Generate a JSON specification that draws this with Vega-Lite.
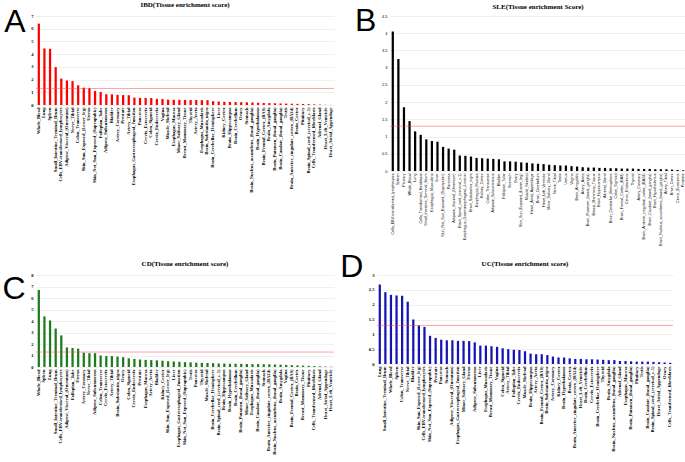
{
  "$schema": "https://vega.github.io/schema/vega-lite/v6.json",
  "padding": {"left": 2, "top": 1, "right": 0, "bottom": 0},
  "background": "white",
  "datasets": {
    "ibd": [
      {"tissue": "Whole_Blood", "score": 6.4},
      {"tissue": "Lung", "score": 4.45},
      {"tissue": "Spleen", "score": 4.42},
      {"tissue": "Small_Intestine_Terminal_Ileum", "score": 2.98},
      {"tissue": "Cells_EBV-transformed_lymphocytes", "score": 2.08},
      {"tissue": "Adipose_Visceral_(Omentum)", "score": 1.93},
      {"tissue": "Nerve_Tibial", "score": 1.88},
      {"tissue": "Colon_Transverse", "score": 1.55},
      {"tissue": "Skin_Sun_Exposed_(Lower_leg)", "score": 1.36},
      {"tissue": "Uterus", "score": 1.32},
      {"tissue": "Skin_Not_Sun_Exposed_(Suprapubic)", "score": 1.1},
      {"tissue": "Fallopian_Tube", "score": 1.02},
      {"tissue": "Adipose_Subcutaneous", "score": 0.85},
      {"tissue": "Bladder", "score": 0.84},
      {"tissue": "Artery_Coronary", "score": 0.8},
      {"tissue": "Prostate", "score": 0.78},
      {"tissue": "Artery_Tibial", "score": 0.77},
      {"tissue": "Esophagus_Gastroesophageal_Junction", "score": 0.58},
      {"tissue": "Pancreas", "score": 0.56},
      {"tissue": "Cervix_Ectocervix", "score": 0.55},
      {"tissue": "Colon_Sigmoid", "score": 0.55},
      {"tissue": "Cervix_Endocervix", "score": 0.48},
      {"tissue": "Vagina", "score": 0.47},
      {"tissue": "Muscle_Skeletal", "score": 0.42},
      {"tissue": "Esophagus_Mucosa", "score": 0.41},
      {"tissue": "Minor_Salivary_Gland", "score": 0.41},
      {"tissue": "Breast_Mammary_Tissue", "score": 0.4},
      {"tissue": "Thyroid", "score": 0.39},
      {"tissue": "Artery_Aorta", "score": 0.39},
      {"tissue": "Esophagus_Muscularis", "score": 0.38},
      {"tissue": "Brain_Substantia_nigra", "score": 0.38},
      {"tissue": "Brain_Cerebellar_Hemisphere", "score": 0.3},
      {"tissue": "Liver", "score": 0.27},
      {"tissue": "Kidney_Cortex", "score": 0.25},
      {"tissue": "Brain_Hippocampus", "score": 0.24},
      {"tissue": "Brain_Cerebellum", "score": 0.23},
      {"tissue": "Ovary", "score": 0.22},
      {"tissue": "Stomach", "score": 0.21},
      {"tissue": "Brain_Nucleus_accumbens_(basal_ganglia)", "score": 0.2},
      {"tissue": "Brain_Hypothalamus", "score": 0.18},
      {"tissue": "Brain_Frontal_Cortex_(BA9)", "score": 0.16},
      {"tissue": "Brain_Amygdala", "score": 0.15},
      {"tissue": "Brain_Putamen_(basal_ganglia)", "score": 0.14},
      {"tissue": "Brain_Caudate_(basal_ganglia)", "score": 0.12},
      {"tissue": "Testis", "score": 0.11},
      {"tissue": "Brain_Anterior_cingulate_cortex_(BA24)", "score": 0.1},
      {"tissue": "Brain_Cortex", "score": 0.09},
      {"tissue": "Pituitary", "score": 0.08},
      {"tissue": "Brain_Spinal_cord_(cervical_c-1)", "score": 0.07},
      {"tissue": "Cells_Transformed_fibroblasts", "score": 0.05},
      {"tissue": "Adrenal_Gland", "score": 0.03},
      {"tissue": "Heart_Left_Ventricle", "score": 0.015},
      {"tissue": "Heart_Atrial_Appendage", "score": 0.008}
    ],
    "sle": [
      {"tissue": "Cells_EBV-transformed_lymphocytes", "score": 4.05},
      {"tissue": "Spleen", "score": 3.25},
      {"tissue": "Pituitary", "score": 1.85},
      {"tissue": "Whole_Blood", "score": 1.45},
      {"tissue": "Lung", "score": 1.15},
      {"tissue": "Cells_Transformed_fibroblasts", "score": 1.05},
      {"tissue": "Small_Intestine_Terminal_Ileum", "score": 0.92},
      {"tissue": "Esophagus_Muscularis", "score": 0.87},
      {"tissue": "Liver", "score": 0.85},
      {"tissue": "Skin_Not_Sun_Exposed_(Suprapubic)", "score": 0.7},
      {"tissue": "Pancreas", "score": 0.65},
      {"tissue": "Adipose_Visceral_(Omentum)", "score": 0.62},
      {"tissue": "Brain_Spinal_cord_(cervical_c-1)", "score": 0.45},
      {"tissue": "Esophagus_Gastroesophageal_Junction", "score": 0.44},
      {"tissue": "Brain_Substantia_nigra", "score": 0.42},
      {"tissue": "Esophagus_Mucosa", "score": 0.38},
      {"tissue": "Kidney_Cortex", "score": 0.37},
      {"tissue": "Colon_Transverse", "score": 0.36},
      {"tissue": "Adipose_Subcutaneous", "score": 0.35},
      {"tissue": "Bladder", "score": 0.34},
      {"tissue": "Fallopian_Tube", "score": 0.28},
      {"tissue": "Stomach", "score": 0.28},
      {"tissue": "Ovary", "score": 0.27},
      {"tissue": "Skin_Sun_Exposed_(Lower_leg)", "score": 0.25},
      {"tissue": "Muscle_Skeletal", "score": 0.24},
      {"tissue": "Heart_Atrial_Appendage", "score": 0.22},
      {"tissue": "Brain_Cerebellum", "score": 0.21},
      {"tissue": "Heart_Left_Ventricle", "score": 0.2},
      {"tissue": "Minor_Salivary_Gland", "score": 0.18},
      {"tissue": "Nerve_Tibial", "score": 0.17},
      {"tissue": "Testis", "score": 0.16},
      {"tissue": "Uterus", "score": 0.16},
      {"tissue": "Vagina", "score": 0.14},
      {"tissue": "Brain_Amygdala", "score": 0.13},
      {"tissue": "Artery_Aorta", "score": 0.11},
      {"tissue": "Brain_Putamen_(basal_ganglia)", "score": 0.1},
      {"tissue": "Breast_Mammary_Tissue", "score": 0.1},
      {"tissue": "Brain_Hippocampus", "score": 0.09},
      {"tissue": "Adrenal_Gland", "score": 0.09},
      {"tissue": "Brain_Cerebellar_Hemisphere", "score": 0.08},
      {"tissue": "Colon_Sigmoid", "score": 0.08},
      {"tissue": "Brain_Frontal_Cortex_(BA9)", "score": 0.07},
      {"tissue": "Cervix_Endocervix", "score": 0.07},
      {"tissue": "Thyroid", "score": 0.07},
      {"tissue": "Artery_Coronary", "score": 0.06},
      {"tissue": "Brain_Anterior_cingulate_cortex_(BA24)", "score": 0.06},
      {"tissue": "Brain_Caudate_(basal_ganglia)", "score": 0.06},
      {"tissue": "Brain_Hypothalamus", "score": 0.05},
      {"tissue": "Brain_Nucleus_accumbens_(basal_ganglia)", "score": 0.05},
      {"tissue": "Artery_Tibial", "score": 0.05},
      {"tissue": "Brain_Cortex", "score": 0.04},
      {"tissue": "Cervix_Ectocervix", "score": 0.03},
      {"tissue": "Prostate", "score": 0.02}
    ],
    "cd": [
      {"tissue": "Whole_Blood", "score": 6.7},
      {"tissue": "Spleen", "score": 4.4},
      {"tissue": "Lung", "score": 4.05},
      {"tissue": "Small_Intestine_Terminal_Ileum", "score": 3.35},
      {"tissue": "Cells_EBV-transformed_lymphocytes", "score": 2.75},
      {"tissue": "Adipose_Visceral_(Omentum)", "score": 1.7},
      {"tissue": "Fallopian_Tube", "score": 1.65},
      {"tissue": "Uterus", "score": 1.6},
      {"tissue": "Artery_Coronary", "score": 1.25},
      {"tissue": "Nerve_Tibial", "score": 1.2},
      {"tissue": "Adipose_Subcutaneous", "score": 1.2},
      {"tissue": "Colon_Transverse", "score": 1.0},
      {"tissue": "Cervix_Ectocervix", "score": 0.95},
      {"tissue": "Artery_Tibial", "score": 0.95},
      {"tissue": "Brain_Substantia_nigra", "score": 0.9},
      {"tissue": "Ovary", "score": 0.85},
      {"tissue": "Colon_Sigmoid", "score": 0.75},
      {"tissue": "Cervix_Endocervix", "score": 0.7},
      {"tissue": "Prostate", "score": 0.65},
      {"tissue": "Esophagus_Mucosa", "score": 0.62},
      {"tissue": "Artery_Aorta", "score": 0.6},
      {"tissue": "Bladder", "score": 0.58},
      {"tissue": "Kidney_Cortex", "score": 0.55},
      {"tissue": "Skin_Sun_Exposed_(Lower_leg)", "score": 0.5},
      {"tissue": "Liver", "score": 0.48},
      {"tissue": "Esophagus_Gastroesophageal_Junction", "score": 0.45},
      {"tissue": "Skin_Not_Sun_Exposed_(Suprapubic)", "score": 0.42},
      {"tissue": "Testis", "score": 0.4},
      {"tissue": "Pancreas", "score": 0.38},
      {"tissue": "Thyroid", "score": 0.36},
      {"tissue": "Muscle_Skeletal", "score": 0.35},
      {"tissue": "Brain_Cerebellar_Hemisphere", "score": 0.33},
      {"tissue": "Brain_Spinal_cord_(cervical_c-1)", "score": 0.3},
      {"tissue": "Brain_Hippocampus", "score": 0.3},
      {"tissue": "Brain_Hypothalamus", "score": 0.28},
      {"tissue": "Brain_Cerebellum", "score": 0.28},
      {"tissue": "Brain_Putamen_(basal_ganglia)", "score": 0.27},
      {"tissue": "Minor_Salivary_Gland", "score": 0.26},
      {"tissue": "Esophagus_Muscularis", "score": 0.25},
      {"tissue": "Brain_Caudate_(basal_ganglia)", "score": 0.25},
      {"tissue": "Stomach", "score": 0.24},
      {"tissue": "Brain_Anterior_cingulate_cortex_(BA24)", "score": 0.23},
      {"tissue": "Brain_Nucleus_accumbens_(basal_ganglia)", "score": 0.22},
      {"tissue": "Brain_Amygdala", "score": 0.2},
      {"tissue": "Vagina", "score": 0.18},
      {"tissue": "Brain_Frontal_Cortex_(BA9)", "score": 0.16},
      {"tissue": "Brain_Cortex", "score": 0.14},
      {"tissue": "Breast_Mammary_Tissue", "score": 0.12},
      {"tissue": "Pituitary", "score": 0.1},
      {"tissue": "Cells_Transformed_fibroblasts", "score": 0.08},
      {"tissue": "Adrenal_Gland", "score": 0.06},
      {"tissue": "Heart_Atrial_Appendage", "score": 0.04},
      {"tissue": "Heart_Left_Ventricle", "score": 0.03}
    ],
    "uc": [
      {"tissue": "Lung", "score": 2.68},
      {"tissue": "Small_Intestine_Terminal_Ileum", "score": 2.42},
      {"tissue": "Whole_Blood", "score": 2.33},
      {"tissue": "Spleen", "score": 2.31},
      {"tissue": "Colon_Transverse", "score": 2.3},
      {"tissue": "Nerve_Tibial", "score": 2.1},
      {"tissue": "Bladder", "score": 1.5},
      {"tissue": "Skin_Sun_Exposed_(Lower_leg)", "score": 1.3},
      {"tissue": "Cells_EBV-transformed_lymphocytes", "score": 1.25},
      {"tissue": "Skin_Not_Sun_Exposed_(Suprapubic)", "score": 0.95},
      {"tissue": "Prostate", "score": 0.88},
      {"tissue": "Pancreas", "score": 0.82},
      {"tissue": "Stomach", "score": 0.8},
      {"tissue": "Adipose_Visceral_(Omentum)", "score": 0.8},
      {"tissue": "Esophagus_Gastroesophageal_Junction", "score": 0.78},
      {"tissue": "Minor_Salivary_Gland", "score": 0.78},
      {"tissue": "Uterus", "score": 0.77},
      {"tissue": "Adipose_Subcutaneous", "score": 0.73},
      {"tissue": "Liver", "score": 0.62},
      {"tissue": "Esophagus_Muscularis", "score": 0.62},
      {"tissue": "Breast_Mammary_Tissue", "score": 0.6},
      {"tissue": "Vagina", "score": 0.58},
      {"tissue": "Colon_Sigmoid", "score": 0.53},
      {"tissue": "Artery_Tibial", "score": 0.5},
      {"tissue": "Fallopian_Tube", "score": 0.48},
      {"tissue": "Cervix_Endocervix", "score": 0.47},
      {"tissue": "Muscle_Skeletal", "score": 0.43},
      {"tissue": "Brain_Hippocampus", "score": 0.35},
      {"tissue": "Artery_Aorta", "score": 0.33},
      {"tissue": "Brain_Frontal_Cortex_(BA9)", "score": 0.33},
      {"tissue": "Brain_Substantia_nigra", "score": 0.3},
      {"tissue": "Artery_Coronary", "score": 0.25},
      {"tissue": "Kidney_Cortex", "score": 0.22},
      {"tissue": "Brain_Hypothalamus", "score": 0.22},
      {"tissue": "Brain_Cortex", "score": 0.19},
      {"tissue": "Brain_Anterior_cingulate_cortex_(BA24)", "score": 0.17},
      {"tissue": "Heart_Left_Ventricle", "score": 0.17},
      {"tissue": "Brain_Cerebellum", "score": 0.16},
      {"tissue": "Cervix_Ectocervix", "score": 0.16},
      {"tissue": "Brain_Cerebellar_Hemisphere", "score": 0.15},
      {"tissue": "Thyroid", "score": 0.14},
      {"tissue": "Brain_Amygdala", "score": 0.13},
      {"tissue": "Brain_Nucleus_accumbens_(basal_ganglia)", "score": 0.13},
      {"tissue": "Adrenal_Gland", "score": 0.1},
      {"tissue": "Esophagus_Mucosa", "score": 0.1},
      {"tissue": "Brain_Putamen_(basal_ganglia)", "score": 0.09},
      {"tissue": "Pituitary", "score": 0.08},
      {"tissue": "Testis", "score": 0.08},
      {"tissue": "Brain_Caudate_(basal_ganglia)", "score": 0.08},
      {"tissue": "Brain_Spinal_cord_(cervical_c-1)", "score": 0.07},
      {"tissue": "Heart_Atrial_Appendage", "score": 0.06},
      {"tissue": "Ovary", "score": 0.05},
      {"tissue": "Cells_Transformed_fibroblasts", "score": 0.04}
    ]
  },
  "config": {
    "view": {"stroke": null},
    "axis": {"domain": false, "ticks": false, "title": null},
    "axisX": {"grid": false, "labelAngle": -90, "labelFontSize": 4.6, "labelFont": "Liberation Serif", "labelFontWeight": "bold", "labelColor": "#000", "labelLimit": 300, "labelPadding": 2, "labelOverlap": false},
    "axisY": {"gridColor": "#e6e6e6", "gridWidth": 0.6, "labelFontSize": 4.6, "labelFont": "Liberation Serif", "labelFontWeight": "bold", "labelColor": "#000", "labelPadding": 3, "labelOverlap": false, "labelFlush": false, "labelSeparation": 0},
    "title": {"font": "Liberation Serif", "fontSize": 7, "fontWeight": "bold", "color": "#000", "offset": 5},
    "concat": {"spacing": 20}
  },
  "vconcat": [
    {
      "hconcat": [
        {
          "title": {"text": "A", "orient": "left", "anchor": "end", "angle": 0, "baseline": "top", "align": "left", "fontSize": 32, "font": "Liberation Sans", "fontWeight": "normal", "offset": 5, "dy": 6},
          "vconcat": [
            {
              "width": 298, "height": 89,
              "title": {"text": "IBD(Tissue enrichment score)", "offset": 5},
              "data": {"name": "ibd"},
              "layer": [
                {"mark": {"type": "bar", "color": "#ff0000"},
                 "encoding": {
                   "x": {"field": "tissue", "type": "nominal", "sort": null, "scale": {"paddingInner": 0.6, "paddingOuter": 0.3}},
                   "y": {"field": "score", "type": "quantitative", "scale": {"domain": [0, 7]}, "axis": {"values": [0, 1, 2, 3, 4, 5, 6, 7], "format": "d", "labelOverlap": false}}}},
                {"data": {"values": [{"threshold": 1.3}]}, "mark": {"type": "rule", "color": "#ff4040", "strokeWidth": 0.8, "opacity": 0.6},
                 "encoding": {"y": {"field": "threshold", "type": "quantitative", "axis": {"values": [0, 1, 2, 3, 4, 5, 6, 7], "format": "d", "labelOverlap": false}}}}
              ]
            }
          ]
        },
        {
          "title": {"text": "B", "orient": "left", "anchor": "end", "angle": 0, "baseline": "top", "align": "left", "fontSize": 32, "font": "Liberation Sans", "fontWeight": "normal", "offset": 5, "dy": 3},
          "vconcat": [
            {
              "width": 296, "height": 155,
              "title": {"text": "SLE(Tissue enrichment Score)", "offset": 4},
              "data": {"name": "sle"},
              "layer": [
                {"mark": {"type": "bar", "color": "#000000"},
                 "encoding": {
                   "x": {"field": "tissue", "type": "nominal", "sort": null, "scale": {"paddingInner": 0.6, "paddingOuter": 0.3}, "axis": {"labelFont": "Liberation Sans", "labelFontWeight": "normal", "labelFontSize": 3.7}},
                   "y": {"field": "score", "type": "quantitative", "scale": {"domain": [0, 4.5]}, "axis": {"values": [0, 0.5, 1, 1.5, 2, 2.5, 3, 3.5, 4, 4.5], "format": ".1~f", "labelOverlap": false, "labelFont": "Liberation Sans", "labelFontWeight": "normal", "labelFontSize": 4}}}},
                {"data": {"values": [{"threshold": 1.3}]}, "mark": {"type": "rule", "color": "#ff4040", "strokeWidth": 0.8, "opacity": 0.6},
                 "encoding": {"y": {"field": "threshold", "type": "quantitative", "axis": {"values": [0, 0.5, 1, 1.5, 2, 2.5, 3, 3.5, 4, 4.5], "format": ".1~f", "labelOverlap": false, "labelFont": "Liberation Sans", "labelFontWeight": "normal", "labelFontSize": 4}}}}
              ]
            }
          ]
        }
      ]
    },
    {
      "spacing": 5,
      "hconcat": [
        {
          "title": {"text": "C", "orient": "left", "anchor": "end", "angle": 0, "baseline": "top", "align": "left", "fontSize": 32, "font": "Liberation Sans", "fontWeight": "normal", "offset": 5, "dy": 14},
          "vconcat": [
            {
              "width": 298, "height": 92,
              "title": {"text": "CD(Tissue enrichment score)", "offset": 5},
              "data": {"name": "cd"},
              "layer": [
                {"mark": {"type": "bar", "color": "#1f7a1f"},
                 "encoding": {
                   "x": {"field": "tissue", "type": "nominal", "sort": null, "scale": {"paddingInner": 0.6, "paddingOuter": 0.3}},
                   "y": {"field": "score", "type": "quantitative", "scale": {"domain": [0, 8]}, "axis": {"values": [0, 1, 2, 3, 4, 5, 6, 7, 8], "format": "d", "labelOverlap": false}}}},
                {"data": {"values": [{"threshold": 1.3}]}, "mark": {"type": "rule", "color": "#ff4040", "strokeWidth": 0.8, "opacity": 0.6},
                 "encoding": {"y": {"field": "threshold", "type": "quantitative", "axis": {"values": [0, 1, 2, 3, 4, 5, 6, 7, 8], "format": "d", "labelOverlap": false}}}}
              ]
            }
          ]
        },
        {
          "title": {"text": "D", "orient": "left", "anchor": "end", "angle": 0, "baseline": "top", "align": "left", "fontSize": 32, "font": "Liberation Sans", "fontWeight": "normal", "offset": 5, "dy": -8},
          "vconcat": [
            {
              "width": 296, "height": 89,
              "title": {"text": "UC(Tissue enrichment score)", "offset": 5},
              "data": {"name": "uc"},
              "layer": [
                {"mark": {"type": "bar", "color": "#1414b4"},
                 "encoding": {
                   "x": {"field": "tissue", "type": "nominal", "sort": null, "scale": {"paddingInner": 0.6, "paddingOuter": 0.3}},
                   "y": {"field": "score", "type": "quantitative", "scale": {"domain": [0, 3]}, "axis": {"values": [0, 0.5, 1, 1.5, 2, 2.5, 3], "format": ".1~f", "labelOverlap": false}}}},
                {"data": {"values": [{"threshold": 1.3}]}, "mark": {"type": "rule", "color": "#ff4040", "strokeWidth": 0.8, "opacity": 0.6},
                 "encoding": {"y": {"field": "threshold", "type": "quantitative", "axis": {"values": [0, 0.5, 1, 1.5, 2, 2.5, 3], "format": ".1~f", "labelOverlap": false}}}}
              ]
            }
          ]
        }
      ]
    }
  ],
  "spacing": 5
}
